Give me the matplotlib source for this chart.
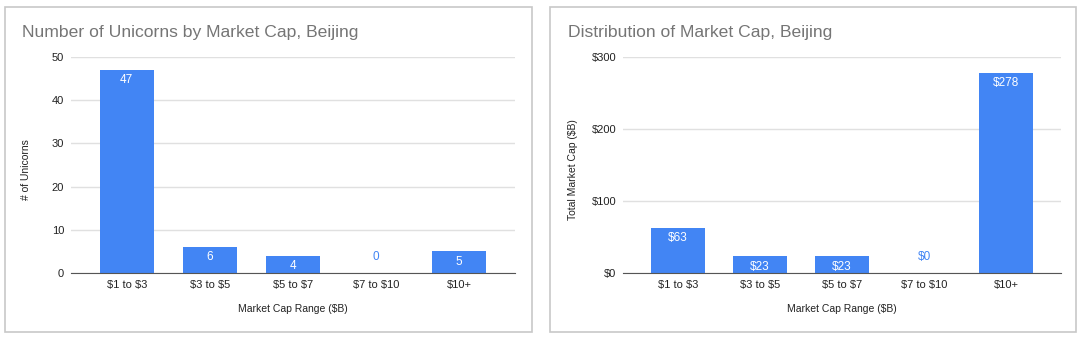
import matplotlib
matplotlib.use("Agg")
import matplotlib.pyplot as plt
from matplotlib.patches import Rectangle

plt.rcParams["font.family"] = ["Liberation Sans", "DejaVu Sans"]
plt.rcParams["text.parse_math"] = False

categories = ["$1 to $3", "$3 to $5", "$5 to $7", "$7 to $10", "$10+"]
unicorn_counts = [47, 6, 4, 0, 5]
market_caps = [63, 23, 23, 0, 278]

BLUE = "#4285f4"
GRID = "#e0e0e0"
TEXT = "#222222"
TITLE = "#757575"

fig = plt.figure(figsize=(10.8, 3.4), dpi=100)
W, H = 1080, 340


def px(x, y):
    return x / W, 1 - y / H


# panel borders
for x0, x1 in [(5, 532), (550, 1076)]:
    fig.patches.append(
        Rectangle(px(x0, 332), (x1 - x0) / W, 325 / H, transform=fig.transFigure,
                  fill=False, edgecolor="#c8c8c8", lw=1.2)
    )


def panel(left_px, right_px, values, title, title_x, ylabel, ylabel_x,
          ymax, yticks, fmt):
    l, b = px(left_px, 273)
    ax = fig.add_axes([l, b, (right_px - left_px) / W, 216 / H])
    xs = range(len(values))
    ax.bar(xs, values, width=0.65, color=BLUE, zorder=3)
    ax.set_xlim(-0.67, 4.67)
    ax.set_ylim(0, ymax)
    ax.set_yticks(yticks)
    ax.set_yticklabels([fmt(t) for t in yticks])
    ax.set_xticks(list(xs))
    ax.set_xticklabels(categories)
    ax.tick_params(length=0, labelsize=8, colors=TEXT)
    ax.tick_params(axis="y", pad=5)
    ax.tick_params(axis="x", pad=5)
    ax.grid(axis="y", color=GRID, lw=1, zorder=0)
    for s in ["top", "right", "left"]:
        ax.spines[s].set_visible(False)
    ax.spines["bottom"].set_color("#555555")
    ax.spines["bottom"].set_zorder(4)
    for i, v in enumerate(values):
        if v > 0:
            ax.annotate(fmt(v), (i, v), xytext=(0, -3), textcoords="offset points",
                        ha="center", va="top", color="white", fontsize=8.5, zorder=5)
        else:
            ax.annotate(fmt(v), (i, 0), xytext=(0, 7), textcoords="offset points",
                        ha="center", va="bottom", color=BLUE, fontsize=8.5, zorder=5)
    tx, ty = px(title_x, 32)
    fig.text(tx, ty, title, fontsize=12.6, color=TITLE, ha="left", va="center")
    yx, yy = px(ylabel_x, 170)
    fig.text(yx, yy, ylabel, fontsize=7.5, color=TEXT, rotation=90,
             ha="center", va="center")
    cx, cy = px((left_px + right_px) / 2, 309)
    fig.text(cx, cy, "Market Cap Range ($B)", fontsize=7.5, color=TEXT,
             ha="center", va="center")
    return ax


panel(71, 515, unicorn_counts, "Number of Unicorns by Market Cap, Beijing", 22,
      "# of Unicorns", 26, 50, [0, 10, 20, 30, 40, 50], lambda v: f"{v}")
panel(623, 1061, market_caps, "Distribution of Market Cap, Beijing", 568,
      "Total Market Cap ($B)", 573, 300, [0, 100, 200, 300], lambda v: f"${v}")

fig.savefig("out.png", dpi=100)
